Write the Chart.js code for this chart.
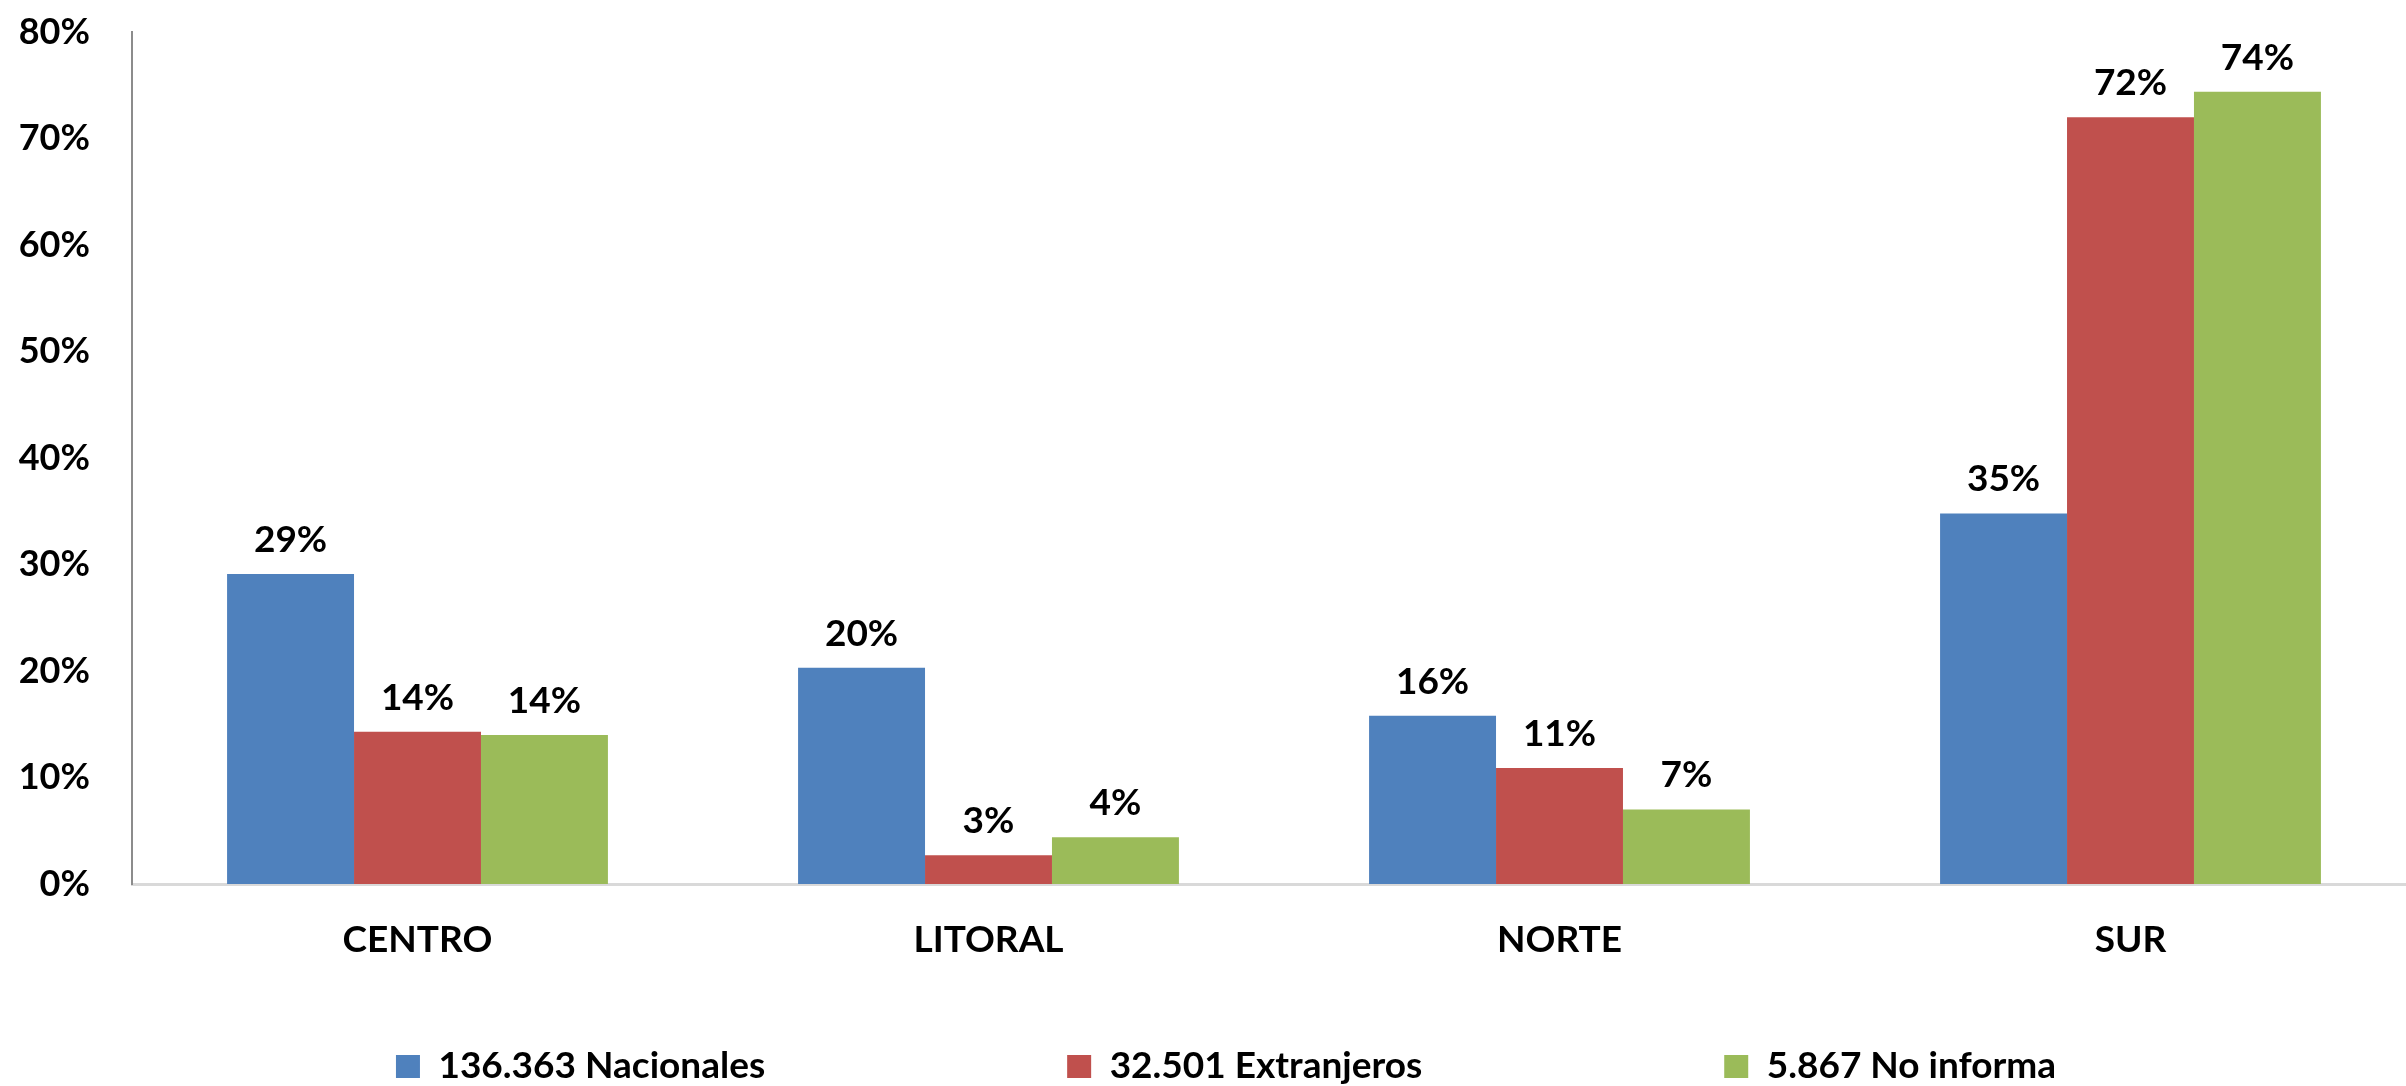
<!DOCTYPE html>
<html>
<head>
<meta charset="utf-8">
<script src="https://cdn.jsdelivr.net/npm/chart.js@4.4.0/dist/chart.umd.min.js"></script>
<style>
  html, body { margin: 0; padding: 0; background: #fff; overflow: hidden; }
  #wrap { width: 2416px; height: 1086px; }
</style>
</head>
<body>
<div id="wrap"><canvas id="chart"></canvas></div>
<script>
// values (percent)
const categories = ["CENTRO", "LITORAL", "NORTE", "SUR"];
const seriesNames = ["136.363 Nacionales", "32.501 Extranjeros", "5.867 No informa"];
const nacionales = [29.1, 20.3, 15.8, 34.8];
const extranjeros = [14.3, 2.7, 10.9, 72.0];
const noInforma = [14.0, 4.4, 7.0, 74.4];
const yTicks = [0, 10, 20, 30, 40, 50, 60, 70, 80];

const COLORS = ["#4F81BD", "#C0504D", "#9BBB59"];
const FONT = "Lato";

// value labels above each bar
const barLabels = {
  id: "barLabels",
  afterDatasetsDraw(chart) {
    const ctx = chart.ctx;
    ctx.save();
    ctx.font = "bold 37px " + FONT;
    ctx.fillStyle = "#000";
    ctx.textAlign = "center";
    ctx.textBaseline = "alphabetic";
    chart.data.datasets.forEach((ds, i) => {
      chart.getDatasetMeta(i).data.forEach((bar, j) => {
        ctx.fillText(Math.round(ds.data[j]) + "%", bar.x, bar.y - 22);
      });
    });
    ctx.restore();
  },
};

// keep the legend short and place its row near the bottom
const LEGEND_PAD = 302;
const legendFix = {
  id: "legendFix",
  afterInit(chart) {
    const legend = chart.legend;
    const fit = legend.fit;
    legend.fit = function () {
      fit.call(this);
      this.height = 120;
    };
  },
  afterLayout(chart) {
    chart.legend.top = 1048 - LEGEND_PAD;
    chart.legend.left = 36;
  },
};

new Chart(document.getElementById("chart"), {
  type: "bar",
  data: {
    labels: categories,
    datasets: [
      { label: seriesNames[0], data: nacionales, backgroundColor: COLORS[0] },
      { label: seriesNames[1], data: extranjeros, backgroundColor: COLORS[1] },
      { label: seriesNames[2], data: noInforma, backgroundColor: COLORS[2] },
    ],
  },
  options: {
    responsive: true,
    maintainAspectRatio: false,
    animation: false,
    layout: { padding: { left: 0, top: 32, right: 0, bottom: 0 } },
    datasets: {
      bar: { categoryPercentage: 0.667, barPercentage: 1.0 },
    },
    scales: {
      x: {
        grid: { display: false, drawTicks: false },
        border: { display: true, color: "#D9D9D9", width: 3 },
        ticks: {
          color: "#000",
          font: { family: FONT, size: 37, weight: "bold" },
          padding: 34,
        },
        afterFit(scale) {
          scale.height = 82;
        },
      },
      y: {
        min: 0,
        max: 80,
        afterBuildTicks(scale) {
          scale.ticks = yTicks.map((v) => ({ value: v }));
        },
        grid: { display: false, drawTicks: false },
        border: { display: true, color: "#8C8C8C", width: 2 },
        ticks: {
          color: "#000",
          font: { family: FONT, size: 36, weight: "bold" },
          padding: 42,
          callback: (v) => v + "%",
        },
        afterFit(scale) {
          scale.width = 132;
          scale.paddingTop = 0;
          scale.paddingBottom = 0;
        },
      },
    },
    plugins: {
      legend: {
        position: "bottom",
        labels: {
          color: "#000",
          font: { family: FONT, size: 37, weight: "bold" },
          boxWidth: 24,
          boxHeight: 23,
          padding: LEGEND_PAD,
        },
      },
      tooltip: { enabled: false },
    },
  },
  plugins: [barLabels, legendFix],
});
</script>
</body>
</html>
